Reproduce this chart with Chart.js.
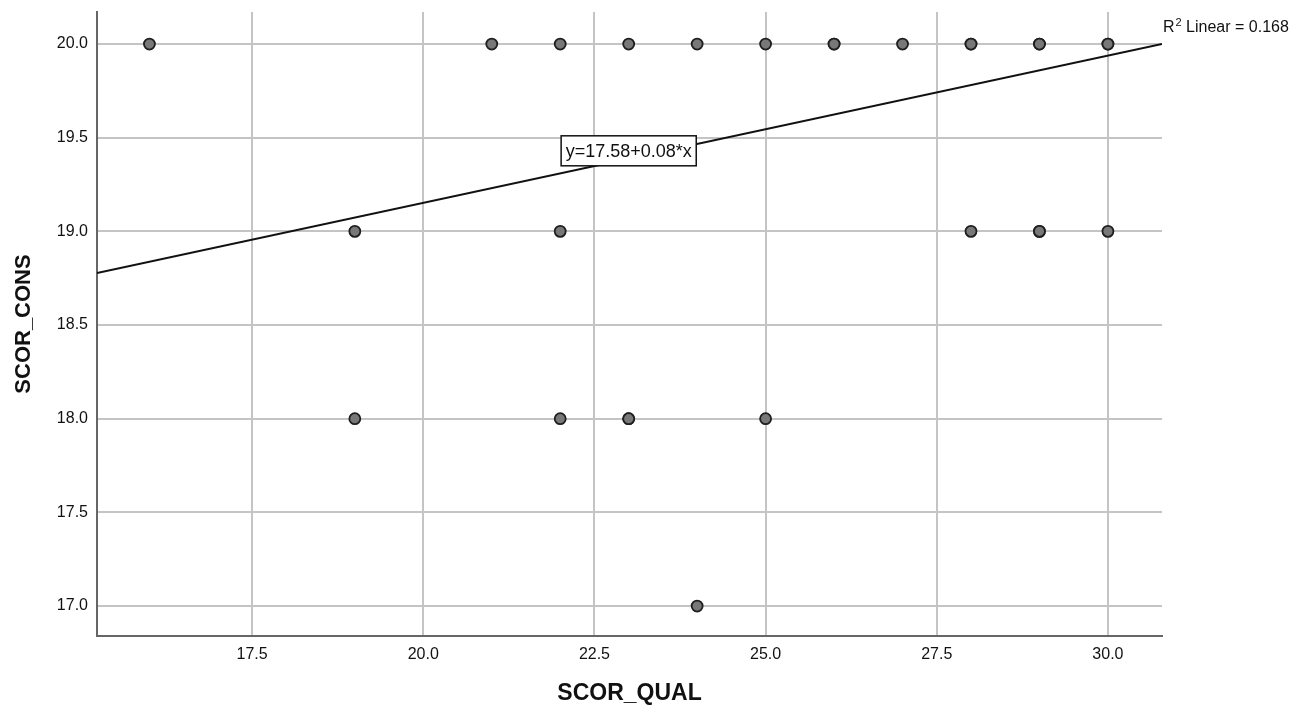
<!DOCTYPE html>
<html>
<head>
<meta charset="utf-8">
<script src="https://cdn.jsdelivr.net/npm/chart.js@4/dist/chart.umd.min.js"></script>
<style>
  html, body { margin: 0; padding: 0; background: #ffffff; }
  #wrap { width: 1309px; height: 709px; }
</style>
</head>
<body>
<div id="wrap"><canvas id="c" width="1309" height="709"></canvas></div>
<script>
// ---- data ----
const scorQual = [16, 21, 22, 23, 24, 25, 26, 26, 27, 28, 28, 29, 29, 30, 30, 19, 22, 28, 29, 29, 30, 19, 22, 23, 23, 25, 24];
const scorCons = [20, 20, 20, 20, 20, 20, 20, 20, 20, 20, 20, 20, 20, 20, 20, 19, 19, 19, 19, 19, 19, 18, 18, 18, 18, 18, 17];
const xTicks = [17.5, 20.0, 22.5, 25.0, 27.5, 30.0];
const yTicks = [17.0, 17.5, 18.0, 18.5, 19.0, 19.5, 20.0];
const xRange = [15.234, 30.79];
const yRange = [16.84, 20.171];
const fitIntercept = 17.58;
const fitSlope = 0.0786;
const fitLabel = "y=17.58+0.08*x";
const fitLabelPos = [23.0, 19.43];
const r2Label = ["R", "2", " Linear = 0.168"];
const xTitle = "SCOR_QUAL";
const yTitle = "SCOR_CONS";

const FONT = "'Liberation Sans', Arial, Helvetica, sans-serif";

const points = scorQual.map((x, i) => ({ x: x, y: scorCons[i] }));
const fitLine = [
  { x: xRange[0], y: fitIntercept + fitSlope * xRange[0] },
  { x: xRange[1], y: fitIntercept + fitSlope * xRange[1] }
];

const annotationPlugin = {
  id: 'annot',
  afterDatasetsDraw(chart) {
    const ctx = chart.ctx;
    const xs = chart.scales.x, ys = chart.scales.y;
    const cx = xs.getPixelForValue(fitLabelPos[0]);
    const cy = ys.getPixelForValue(fitLabelPos[1]);
    ctx.save();
    ctx.font = "18px " + FONT;
    const w = ctx.measureText(fitLabel).width + 9;
    const h = 30;
    ctx.fillStyle = "#ffffff";
    ctx.fillRect(cx - w / 2, cy - h / 2, w, h);
    ctx.strokeStyle = "#111111";
    ctx.lineWidth = 1.5;
    ctx.strokeRect(cx - w / 2, cy - h / 2, w, h);
    ctx.fillStyle = "#111111";
    ctx.textAlign = "center";
    ctx.textBaseline = "middle";
    ctx.fillText(fitLabel, cx, cy + 1);
    ctx.restore();
  },
  afterDraw(chart) {
    const ctx = chart.ctx;
    const a = chart.chartArea;
    ctx.save();
    ctx.fillStyle = "#111111";
    ctx.textBaseline = "alphabetic";
    ctx.textAlign = "left";
    let x = a.right + 1;
    const y = a.top + 20;
    ctx.font = "16px " + FONT;
    ctx.fillText(r2Label[0], x, y);
    x += ctx.measureText(r2Label[0]).width + 1;
    ctx.font = "11px " + FONT;
    ctx.fillText(r2Label[1], x, y - 6);
    x += ctx.measureText(r2Label[1]).width;
    ctx.font = "16px " + FONT;
    ctx.fillText(r2Label[2], x, y);
    ctx.restore();
  }
};

new Chart(document.getElementById('c'), {
  type: 'scatter',
  data: {
    datasets: [
      {
        type: 'line',
        data: fitLine,
        borderColor: '#111111',
        borderWidth: 2,
        pointRadius: 0,
        fill: false,
        order: 2
      },
      {
        data: points,
        backgroundColor: '#787878',
        borderColor: '#1e1e1e',
        borderWidth: 1.8,
        pointRadius: 5.5,
        order: 1
      }
    ]
  },
  options: {
    responsive: false,
    animation: false,
    events: [],
    layout: { padding: { top: 12, right: 147, left: 0, bottom: 0 } },
    plugins: { legend: { display: false }, tooltip: { enabled: false } },
    scales: {
      x: {
        type: 'linear',
        min: xRange[0],
        max: xRange[1],
        afterBuildTicks(s) { s.ticks = xTicks.map(v => ({ value: v })); },
        afterFit(s) { s.height = 73; s.paddingLeft = 0; s.paddingRight = 0; },
        grid: { color: '#c4c4c4', lineWidth: 2, drawTicks: false },
        border: { color: '#666666', width: 2 },
        ticks: {
          padding: 9,
          color: '#111111',
          font: { family: FONT, size: 16 },
          callback: v => Number(v).toFixed(1),
          maxRotation: 0,
          autoSkip: false
        },
        title: {
          display: true,
          text: xTitle,
          color: '#111111',
          font: { family: FONT, size: 23, weight: 'bold' },
          padding: { top: 0, bottom: 2 }
        }
      },
      y: {
        type: 'linear',
        min: yRange[0],
        max: yRange[1],
        afterBuildTicks(s) { s.ticks = yTicks.map(v => ({ value: v })); },
        afterFit(s) { s.width = 97; s.paddingTop = 0; s.paddingBottom = 0; },
        grid: { color: '#c4c4c4', lineWidth: 2, drawTicks: false },
        border: { color: '#666666', width: 2 },
        ticks: {
          padding: 9,
          color: '#111111',
          font: { family: FONT, size: 16 },
          callback: v => Number(v).toFixed(1),
          autoSkip: false
        },
        title: {
          display: true,
          text: yTitle,
          color: '#111111',
          font: { family: FONT, size: 22, weight: 'bold' },
          padding: { top: 11, bottom: 0 }
        }
      }
    }
  },
  plugins: [annotationPlugin]
});
</script>
</body>
</html>
